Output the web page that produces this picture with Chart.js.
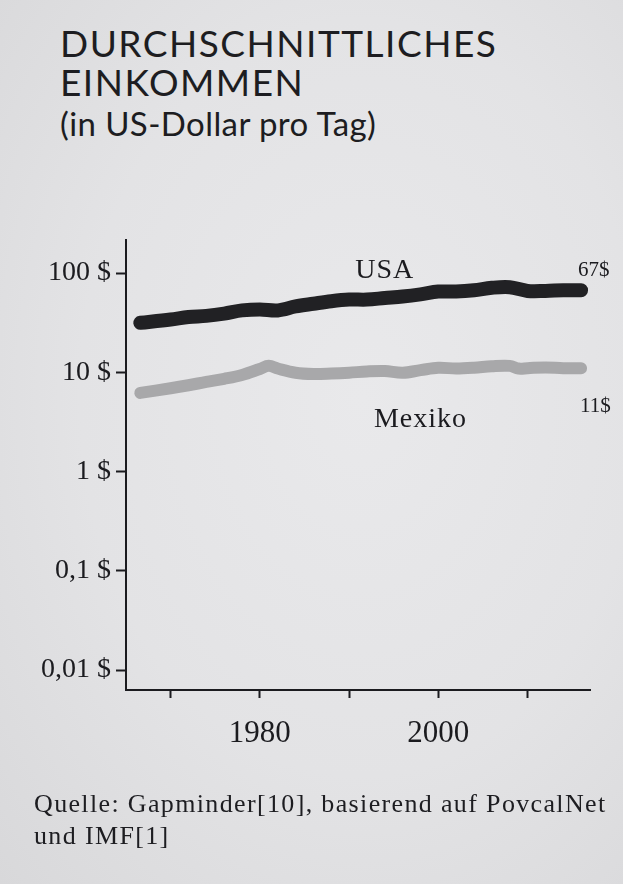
<!DOCTYPE html>
<html>
<head>
<meta charset="utf-8">
<script src="https://cdn.jsdelivr.net/npm/chart.js@4/dist/chart.umd.min.js"></script>
<style>
  html, body { margin: 0; padding: 0; }
  body {
    width: 623px; height: 884px; overflow: hidden; position: relative;
    background: radial-gradient(ellipse at 58% 45%, #e9e9eb 0%, #e3e3e5 55%, #d8d8da 100%);
    color: #1d1d21;
  }
  .title {
    position: absolute; left: 60px; top: 23px;
    font-family: Lato, "Open Sans", sans-serif; font-size: 37px; line-height: 39px;
    letter-spacing: 1.5px; font-weight: 400;
  }
  .subtitle {
    position: absolute; left: 60px; top: 104px;
    font-family: Lato, "Open Sans", sans-serif; font-size: 33px; line-height: 38px;
    letter-spacing: 0.4px;
  }
  .source {
    position: absolute; left: 34px; top: 788px;
    font-family: "Liberation Serif", serif; font-size: 26px; line-height: 32px;
    letter-spacing: 1.35px;
  }
  #chart { position: absolute; left: 0; top: 0; }
</style>
</head>
<body>
<div class="title">DURCHSCHNITTLICHES<br>EINKOMMEN</div>
<div class="subtitle">(in US-Dollar pro Tag)</div>
<canvas id="chart" width="623" height="884"></canvas>
<div class="source">Quelle: Gapminder[10], basierend auf PovcalNet<br>und IMF[1]</div>

<script>
// Average income, US dollars per day
const usaYears  = [1966.6, 1970, 1972, 1974, 1976, 1978, 1980, 1982, 1984, 1986, 1988, 1990, 1992, 1994, 1996, 1998, 2000, 2002, 2004, 2006, 2008, 2010, 2012, 2014, 2016];
const usaIncome = [31.5, 34, 36, 37, 39, 42, 43, 42, 46, 49, 52, 54, 54, 56, 58, 61, 65, 65, 67, 71, 72, 66, 66, 67, 67];

const mexYears  = [1966.6, 1970, 1972, 1974, 1976, 1978, 1980, 1981, 1982, 1984, 1986, 1988, 1990, 1992, 1994, 1996, 1998, 2000, 2002, 2004, 2006, 2008, 2009, 2010, 2012, 2014, 2016];
const mexIncome = [6.2, 6.9, 7.4, 8.0, 8.6, 9.4, 10.8, 11.6, 10.9, 9.9, 9.6, 9.7, 9.9, 10.2, 10.3, 9.9, 10.5, 11.1, 10.9, 11.1, 11.5, 11.6, 10.9, 11.0, 11.2, 11.0, 11.0];

const yTickValues = [0.01, 0.1, 1, 10, 100];
const yTickLabels = ['0,01 $', '0,1 $', '1 $', '10 $', '100 $'];
const xTickValues = [1970, 1980, 1990, 2000, 2010];
const xTickLabels = ['', '1980', '', '2000', ''];

const ink = '#1b1b1f';
const serif = '"Liberation Serif", "DejaVu Serif", serif';

const toPoints = (xs, ys) => xs.map((x, i) => ({ x: x, y: ys[i] }));

// Series names and end values written next to the lines
const seriesLabels = {
  id: 'seriesLabels',
  afterDatasetsDraw(chart) {
    const { ctx } = chart;
    const xs = chart.scales.x, ys = chart.scales.y;
    ctx.save();
    ctx.fillStyle = ink;
    ctx.textBaseline = 'middle';

    ctx.font = '28px ' + serif;
    ctx.letterSpacing = '1px';
    ctx.textAlign = 'center';
    ctx.fillText('USA', xs.getPixelForValue(1994), ys.getPixelForValue(105));
    ctx.fillText('Mexiko', xs.getPixelForValue(1998), ys.getPixelForValue(3.3));

    const lastUsa = usaIncome[usaIncome.length - 1];
    const lastMex = mexIncome[mexIncome.length - 1];
    const endX = xs.getPixelForValue(usaYears[usaYears.length - 1]);
    ctx.font = '21px ' + serif;
    ctx.letterSpacing = '0px';
    ctx.textAlign = 'left';
    ctx.fillText(lastUsa + '$', endX - 3, ys.getPixelForValue(lastUsa) - 20);
    ctx.fillText(lastMex + '$', endX - 1, ys.getPixelForValue(lastMex) + 38);
    ctx.restore();
  }
};

new Chart(document.getElementById('chart'), {
  type: 'line',
  data: {
    datasets: [
      {
        label: 'USA',
        data: toPoints(usaYears, usaIncome),
        borderColor: '#212124',
        borderWidth: 14,
        tension: 0.35,
        borderCapStyle: 'round',
        borderJoinStyle: 'round',
        pointRadius: 0,
        clip: false
      },
      {
        label: 'Mexiko',
        data: toPoints(mexYears, mexIncome),
        borderColor: '#a8a8aa',
        borderWidth: 12,
        tension: 0.35,
        borderCapStyle: 'round',
        borderJoinStyle: 'round',
        pointRadius: 0,
        clip: false
      }
    ]
  },
  options: {
    responsive: false,
    animation: false,
    layout: { padding: { top: 240, left: 0, right: 33, bottom: 134 } },
    plugins: { legend: { display: false }, tooltip: { enabled: false } },
    scales: {
      x: {
        type: 'linear',
        min: 1965,
        max: 2017,
        afterBuildTicks: s => { s.ticks = xTickValues.map(v => ({ value: v })); },
        afterFit: s => { s.height = 60; },
        ticks: {
          callback: (v, i) => xTickLabels[i],
          autoSkip: false, maxRotation: 0,
          padding: 17,
          color: ink,
          font: { family: serif, size: 31 }
        },
        grid: { drawOnChartArea: false, tickLength: 8, tickColor: ink, tickWidth: 2 },
        border: { display: true, color: ink, width: 2 }
      },
      y: {
        type: 'logarithmic',
        min: 0.0063,
        max: 215,
        afterBuildTicks: s => { s.ticks = yTickValues.map(v => ({ value: v })); },
        afterFit: s => { s.width = 126; },
        ticks: {
          callback: (v, i) => yTickLabels[i],
          autoSkip: false,
          padding: 5,
          color: ink,
          font: { family: serif, size: 28 }
        },
        grid: { drawOnChartArea: false, tickLength: 10, tickColor: ink, tickWidth: 2 },
        border: { display: true, color: ink, width: 2 }
      }
    }
  },
  plugins: [seriesLabels]
});
</script>
</body>
</html>
